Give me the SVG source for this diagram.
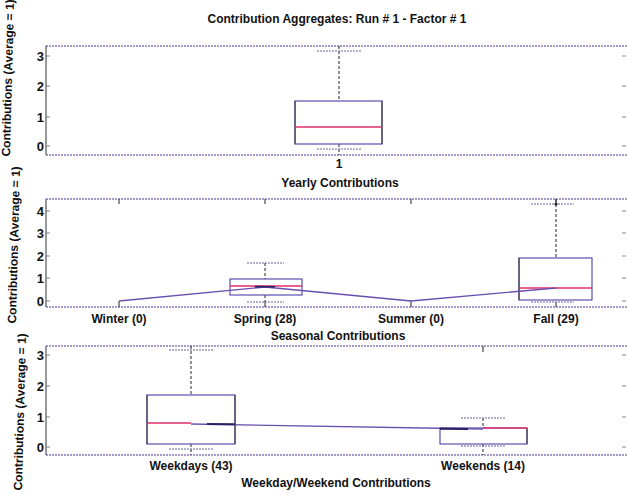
<svg xmlns="http://www.w3.org/2000/svg" width="628" height="495" viewBox="0 0 628 495">
<style>
text{font-family:"Liberation Sans",Arial,sans-serif;font-weight:bold;fill:#111}
.t12{font-size:12px}
.tk{font-size:13px;text-anchor:end}
.c{text-anchor:middle}
.bord{stroke:#8a78b8;stroke-width:1.3;stroke-dasharray:2 1;fill:none}
.axis{stroke:#333;stroke-width:1;fill:none}
.tick{stroke:#666;stroke-width:0.8}
.box{fill:none;stroke:#5a4fb0;stroke-width:1.2}
.side{stroke:#333;stroke-width:1}
.med{stroke:#e0306a;stroke-width:1.4}
.wh{stroke:#222;stroke-width:1;stroke-dasharray:3 2}
.cap{stroke:#6a6aa0;stroke-width:1.2;stroke-dasharray:2 1}
.mean{stroke:#6a4fb0;stroke-width:1.4;fill:none}
</style>

<text class="t12 c" x="337" y="23">Contribution Aggregates: Run # 1 - Factor # 1</text>

<g id="ylabels">
<text class="t12 c" transform="translate(12,78) rotate(-88.5)">Contributions (Average = 1)</text>
<text class="t12 c" transform="translate(18,245) rotate(-88.5)">Contributions (Average = 1)</text>
<text class="t12 c" transform="translate(24,412) rotate(-88.5)">Contributions (Average = 1)</text>
</g>

<g id="panel-yearly">
<line class="bord" x1="46" y1="46" x2="628" y2="46"/>
<line class="bord" x1="46" y1="155" x2="628" y2="155"/>
<line class="axis" x1="46" y1="46" x2="46" y2="155"/>
<g class="tick">
<line x1="46" y1="56" x2="50" y2="56"/><line x1="46" y1="86" x2="50" y2="86"/><line x1="46" y1="117" x2="50" y2="117"/><line x1="46" y1="146" x2="50" y2="146"/>
<line x1="622" y1="56" x2="626" y2="56"/><line x1="622" y1="86" x2="626" y2="86"/><line x1="622" y1="117" x2="626" y2="117"/><line x1="622" y1="146" x2="626" y2="146"/>
</g>
<text class="tk" x="44" y="61">3</text>
<text class="tk" x="44" y="91">2</text>
<text class="tk" x="44" y="122">1</text>
<text class="tk" x="44" y="151">0</text>
<g id="box-yearly">
<line class="wh" x1="339" y1="46" x2="339" y2="101"/>
<line class="wh" x1="339" y1="144" x2="339" y2="155"/>
<line class="cap" x1="317" y1="51" x2="361" y2="51"/>
<line class="cap" x1="317" y1="149" x2="361" y2="149"/>
<rect class="box" x="295" y="101" width="87" height="43"/>
<line class="side" x1="295" y1="101" x2="295" y2="144"/>
<line class="side" x1="382" y1="101" x2="382" y2="144"/>
<line class="med" x1="295" y1="127" x2="382" y2="127"/>
</g>
<text class="t12 c" x="339" y="168">1</text>
<text class="t12 c" x="340" y="187">Yearly Contributions</text>
</g>

<g id="panel-seasonal">
<line class="bord" x1="46" y1="199" x2="628" y2="199"/>
<line class="bord" x1="46" y1="307" x2="628" y2="307"/>
<line class="axis" x1="46" y1="199" x2="46" y2="307"/>
<g class="tick">
<line x1="46" y1="211" x2="50" y2="211"/><line x1="46" y1="233" x2="50" y2="233"/><line x1="46" y1="256" x2="50" y2="256"/><line x1="46" y1="278" x2="50" y2="278"/><line x1="46" y1="301" x2="50" y2="301"/>
<line x1="622" y1="211" x2="626" y2="211"/><line x1="622" y1="233" x2="626" y2="233"/><line x1="622" y1="256" x2="626" y2="256"/><line x1="622" y1="278" x2="626" y2="278"/><line x1="622" y1="301" x2="626" y2="301"/>
</g>
<g stroke="#222" stroke-width="1">
<line x1="119" y1="199" x2="119" y2="204"/><line x1="265" y1="199" x2="265" y2="204"/><line x1="411" y1="199" x2="411" y2="204"/><line x1="556" y1="199" x2="556" y2="204"/>
<line x1="119" y1="301" x2="119" y2="307"/><line x1="265" y1="302" x2="265" y2="307"/><line x1="411" y1="301" x2="411" y2="307"/><line x1="556" y1="302" x2="556" y2="307"/>
</g>
<text class="tk" x="44" y="216">4</text>
<text class="tk" x="44" y="238">3</text>
<text class="tk" x="44" y="261">2</text>
<text class="tk" x="44" y="283">1</text>
<text class="tk" x="44" y="306">0</text>
<g id="box-spring">
<line class="wh" x1="265" y1="263" x2="265" y2="279"/>
<line class="wh" x1="265" y1="295" x2="265" y2="302"/>
<line class="cap" x1="247" y1="263" x2="284" y2="263"/>
<line class="cap" x1="247" y1="302" x2="284" y2="302"/>
<rect class="box" x="230" y="279" width="72" height="16"/>
<line class="med" x1="230" y1="286" x2="302" y2="286"/>
</g>
<g id="box-fall">
<line class="wh" x1="556" y1="199" x2="556" y2="258"/>
<line class="cap" x1="531" y1="204" x2="574" y2="204"/>
<circle cx="556" cy="204" r="1.6" fill="#222"/>
<line class="cap" x1="531" y1="302" x2="574" y2="302"/>
<rect class="box" x="519" y="258" width="73" height="42"/>
<line class="side" x1="519" y1="258" x2="519" y2="300"/>
<line class="med" x1="519" y1="288" x2="592" y2="288"/>
</g>
<text class="t12 c" x="119" y="323">Winter (0)</text>
<text class="t12 c" x="265" y="323">Spring (28)</text>
<text class="t12 c" x="411" y="323">Summer (0)</text>
<text class="t12 c" x="556" y="323">Fall (29)</text>
<text class="t12 c" x="338" y="340">Seasonal Contributions</text>
</g>

<g id="panel-weekday">
<line class="bord" x1="46" y1="346" x2="628" y2="346"/>
<line class="bord" x1="46" y1="455" x2="628" y2="455"/>
<line class="axis" x1="46" y1="346" x2="46" y2="455"/>
<g class="tick">
<line x1="46" y1="355" x2="50" y2="355"/><line x1="46" y1="386" x2="50" y2="386"/><line x1="46" y1="417" x2="50" y2="417"/><line x1="46" y1="447" x2="50" y2="447"/>
<line x1="622" y1="355" x2="626" y2="355"/><line x1="622" y1="386" x2="626" y2="386"/><line x1="622" y1="417" x2="626" y2="417"/><line x1="622" y1="447" x2="626" y2="447"/>
</g>
<text class="tk" x="44" y="360">3</text>
<text class="tk" x="44" y="391">2</text>
<text class="tk" x="44" y="422">1</text>
<text class="tk" x="44" y="452">0</text>
<g id="box-weekdays">
<line class="wh" x1="191" y1="346" x2="191" y2="395"/>
<line class="wh" x1="191" y1="444" x2="191" y2="455"/>
<line class="cap" x1="169" y1="350" x2="214" y2="350"/>
<line class="cap" x1="169" y1="449" x2="214" y2="449"/>
<rect class="box" x="147" y="395" width="88" height="49"/>
<line class="side" x1="147" y1="395" x2="147" y2="444"/>
<line class="side" x1="235" y1="395" x2="235" y2="444"/>
<line class="med" x1="147" y1="423" x2="191" y2="423"/>
</g>
<g id="box-weekends">
<line stroke="#222" stroke-width="1" x1="483" y1="346" x2="483" y2="352"/>
<line class="wh" x1="483" y1="418" x2="483" y2="428"/>
<line class="wh" x1="483" y1="444" x2="483" y2="455"/>
<line class="cap" x1="461" y1="418" x2="505" y2="418"/>
<line class="cap" x1="461" y1="446" x2="505" y2="446"/>
<rect class="box" x="440" y="428" width="87" height="16"/>
<line class="side" x1="527" y1="428" x2="527" y2="444"/>
<line class="med" x1="483" y1="428" x2="527" y2="428"/>
</g>
<text class="t12 c" x="191" y="470">Weekdays (43)</text>
<text class="t12 c" x="483" y="470">Weekends (14)</text>
<text class="t12 c" x="336" y="487">Weekday/Weekend Contributions</text>
</g>

<g id="connectors">
<polyline class="mean" points="119,301 265,287 411,301 556,288"/>
<polyline class="mean" points="191,424 483,429"/>
<line stroke="#2a2060" stroke-width="2" x1="207" y1="424" x2="235" y2="424.3"/>
<line stroke="#2a2060" stroke-width="2" x1="440" y1="428.7" x2="468" y2="429"/>
<line stroke="#2a2060" stroke-width="1.6" x1="255" y1="286.6" x2="275" y2="286.8"/>
</g>
</svg>
